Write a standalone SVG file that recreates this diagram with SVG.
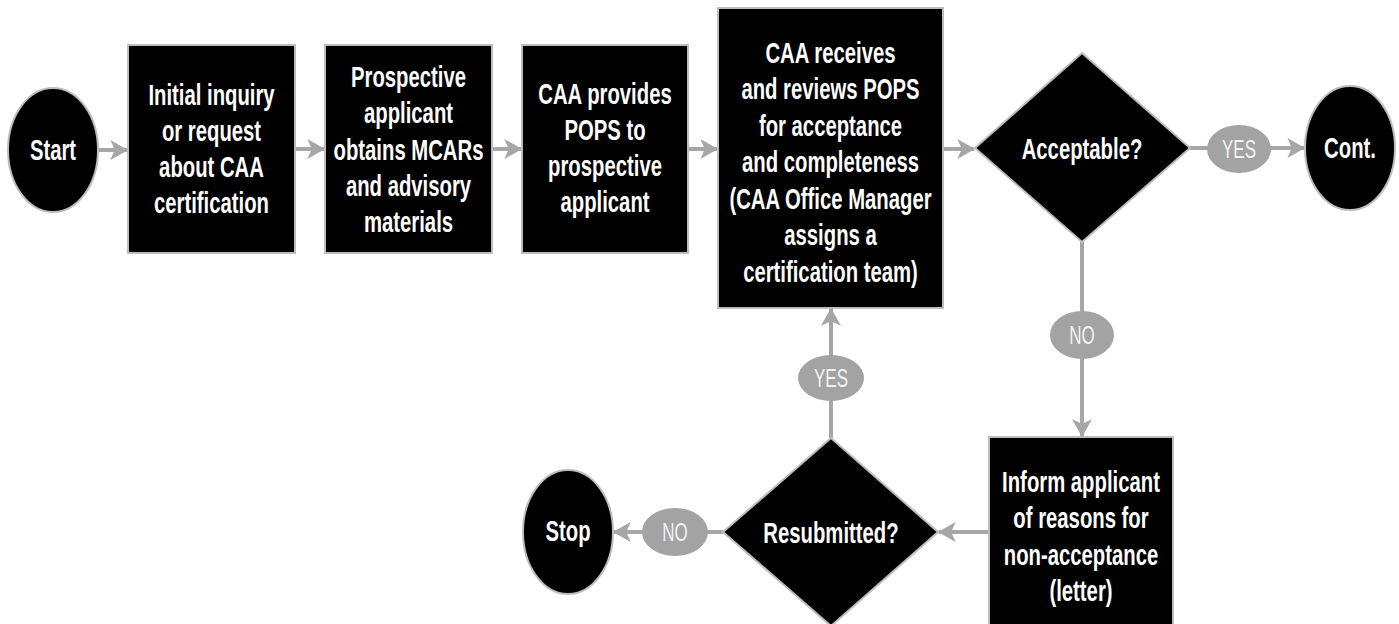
<svg xmlns="http://www.w3.org/2000/svg" width="1399" height="624" viewBox="0 0 1399 624">
<defs>
<style>
.node{fill:#000;stroke:#bdbdbd;stroke-width:2}
.t{font-family:"Liberation Sans",Arial,sans-serif;font-weight:bold;font-size:29px;fill:#fff;text-anchor:middle}
.lbl{fill:#a3a3a3}
.lt{font-family:"Liberation Sans",Arial,sans-serif;font-size:25px;fill:#f2f2f2;text-anchor:middle}
.c{stroke:#a6a6a6;stroke-width:4;fill:none}
</style>
<marker id="ah" markerUnits="userSpaceOnUse" markerWidth="20" markerHeight="20" viewBox="0 0 16 18" refX="15" refY="9" orient="auto">
<path d="M0,0 L16,9 L0,18 L4,9 z" fill="#a6a6a6"/>
</marker>
</defs>
<rect width="1399" height="624" fill="#fff"/>
<g id="connectors">
<line class="c" x1="98" y1="150" x2="127" y2="150" marker-end="url(#ah)"/>
<line class="c" x1="295" y1="149" x2="324" y2="149" marker-end="url(#ah)"/>
<line class="c" x1="492" y1="149" x2="521" y2="149" marker-end="url(#ah)"/>
<line class="c" x1="688" y1="149" x2="717" y2="149" marker-end="url(#ah)"/>
<line class="c" x1="943" y1="149" x2="974" y2="149" marker-end="url(#ah)"/>
<line class="c" x1="1190" y1="148" x2="1304" y2="148" marker-end="url(#ah)"/>
<line class="c" x1="1082" y1="242" x2="1082" y2="436" marker-end="url(#ah)"/>
<line class="c" x1="989" y1="532" x2="939" y2="532" marker-end="url(#ah)"/>
<line class="c" x1="831" y1="438" x2="831" y2="309" marker-end="url(#ah)"/>
<line class="c" x1="723" y1="532" x2="614" y2="532" marker-end="url(#ah)"/>
<g id="label-yes1"><ellipse class="lbl" cx="1239" cy="149" rx="32" ry="24"/><text class="lt" transform="translate(1239,0) scale(0.68,1)" x="0" y="158">YES</text></g>
<g id="label-no1"><ellipse class="lbl" cx="1082" cy="335" rx="32" ry="24"/><text class="lt" transform="translate(1082,0) scale(0.68,1)" x="0" y="344">NO</text></g>
<g id="label-yes2"><ellipse class="lbl" cx="831" cy="378" rx="33" ry="23"/><text class="lt" transform="translate(831,0) scale(0.68,1)" x="0" y="387">YES</text></g>
<g id="label-no2"><ellipse class="lbl" cx="675" cy="532" rx="33" ry="24"/><text class="lt" transform="translate(675,0) scale(0.68,1)" x="0" y="541">NO</text></g>
</g>
<g id="start"><ellipse class="node" cx="53" cy="150" rx="45" ry="62"/><text class="t" transform="translate(53,0) scale(0.7,1)" x="0" y="160">Start</text></g>
<g id="box1"><rect class="node" x="128" y="45" width="167" height="208"/>
<text class="t" transform="translate(211.5,0) scale(0.7,1)"><tspan x="0" y="105">Initial inquiry</tspan><tspan x="0" y="141">or request</tspan><tspan x="0" y="177">about CAA</tspan><tspan x="0" y="213">certification</tspan></text></g>
<g id="box2"><rect class="node" x="325" y="45" width="167" height="208"/>
<text class="t" transform="translate(408.5,0) scale(0.7,1)"><tspan x="0" y="87">Prospective</tspan><tspan x="0" y="123">applicant</tspan><tspan x="0" y="160">obtains MCARs</tspan><tspan x="0" y="196">and advisory</tspan><tspan x="0" y="232">materials</tspan></text></g>
<g id="box3"><rect class="node" x="522" y="45" width="166" height="208"/>
<text class="t" transform="translate(605,0) scale(0.7,1)"><tspan x="0" y="104">CAA provides</tspan><tspan x="0" y="140">POPS to</tspan><tspan x="0" y="176">prospective</tspan><tspan x="0" y="212">applicant</tspan></text></g>
<g id="box4"><rect class="node" x="718" y="8" width="225" height="300"/>
<text class="t" transform="translate(830.5,0) scale(0.7,1)"><tspan x="0" y="63">CAA receives</tspan><tspan x="0" y="99.5">and reviews POPS</tspan><tspan x="0" y="136">for acceptance</tspan><tspan x="0" y="172.5">and completeness</tspan><tspan x="0" y="209">(CAA Office Manager</tspan><tspan x="0" y="245.5">assigns a</tspan><tspan x="0" y="282">certification team)</tspan></text></g>
<g id="acceptable"><polygon class="node" points="1082,53 1190,148 1082,242 975,148"/><text class="t" transform="translate(1082,0) scale(0.7,1)" x="0" y="159">Acceptable?</text></g>
<g id="cont"><ellipse class="node" cx="1350" cy="148" rx="45" ry="62"/><text class="t" transform="translate(1350,0) scale(0.7,1)" x="0" y="158">Cont.</text></g>
<g id="box5"><rect class="node" x="989" y="437" width="184" height="190"/>
<text class="t" transform="translate(1081,0) scale(0.7,1)"><tspan x="0" y="492">Inform applicant</tspan><tspan x="0" y="528">of reasons for</tspan><tspan x="0" y="565">non-acceptance</tspan><tspan x="0" y="601">(letter)</tspan></text></g>
<g id="resubmitted"><polygon class="node" points="831,438 938,532 831,626 723,532"/><text class="t" transform="translate(831,0) scale(0.7,1)" x="0" y="543">Resubmitted?</text></g>
<g id="stop"><ellipse class="node" cx="568" cy="532" rx="45" ry="62"/><text class="t" transform="translate(568,0) scale(0.7,1)" x="0" y="541">Stop</text></g>
</svg>
